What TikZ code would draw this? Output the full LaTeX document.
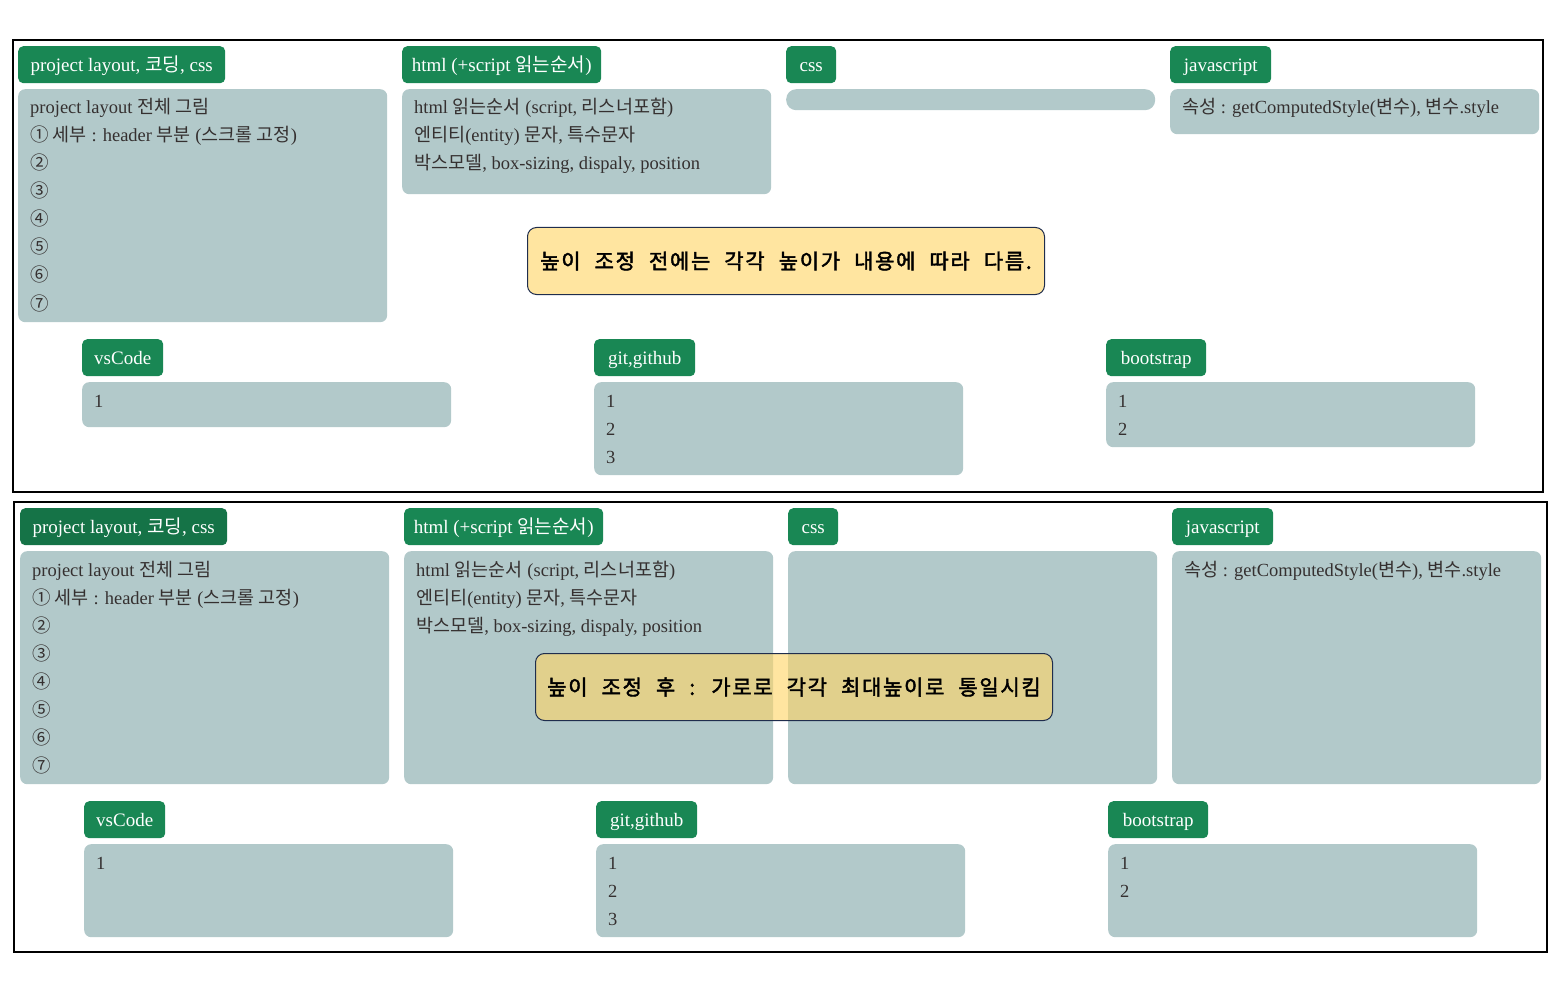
\documentclass[tikz,border=0pt]{standalone}
\usepackage{fontspec}
\setmainfont{Liberation Serif}
\newfontfamily\kr{Noto Sans CJK KR}
\newfontfamily\krb[FakeBold=2,WordSpace=2.2,LetterSpace=8]{Noto Sans CJK KR}
\definecolor{tabgreen}{HTML}{198754}
\definecolor{tabdark}{HTML}{157347}
\definecolor{boxgray}{HTML}{B2C9CA}
\definecolor{bodytext}{HTML}{353030}
\definecolor{notefill}{HTML}{FFD566}
\definecolor{noteline}{HTML}{1F2D4D}
\tikzset{
  tabbox/.style={fill=tabgreen, rounded corners=5pt, anchor=north west, minimum height=37pt, inner sep=0pt, text height=17.5pt, text depth=3pt, text=white, font=\fontsize{19}{22}\selectfont},
  graybox/.style={fill=boxgray, rounded corners=7pt, anchor=north west, minimum width=369pt, inner sep=0pt},
  bodytxt/.style={anchor=base west, inner sep=0pt, text=bodytext, font=\fontsize{18.5}{22}\selectfont},
  notebox/.style={draw=noteline, line width=1pt, fill=notefill, fill opacity=0.62, text opacity=1, rounded corners=9pt, anchor=north west, inner sep=0pt, minimum height=67pt, minimum width=517pt, font=\krb\fontsize{21}{24}\selectfont},
  frame/.style={draw=black, line width=1.2pt}
}
\newcommand\bl[4]{\node[bodytxt] (#1) at (#2,#3) {#4};}
\begin{document}
\begin{tikzpicture}[x=1pt,y=-1pt]
\useasboundingbox (0,0) rectangle (1556,995);
% ---------- top section ----------
\draw[frame] (13,40) rectangle (1543,492);
\node[tabbox, minimum width=207pt] (ta1) at (18,46) {project layout, {\kr 코딩}, css};
\node[tabbox, minimum width=199pt] (ta2) at (402,46) {html (+script {\kr 읽는순서})};
\node[tabbox, minimum width=50pt] (ta3) at (786,46) {css};
\node[tabbox, minimum width=101pt] (ta4) at (1170,46) {javascript};
\node[graybox, minimum height=233pt] (ga1) at (18,89) {};
\node[graybox, minimum height=105pt] (ga2) at (402,89) {};
\node[graybox, minimum height=21pt, rounded corners=10pt] (ga3) at (786,89) {};
\node[graybox, minimum height=45pt] (ga4) at (1170,89) {};
\bl{a1l1}{30}{114}{project layout {\kr 전체 그림}}
\bl{a1l2}{30}{142}{{\kr ① 세부} : header {\kr 부분} ({\kr 스크롤 고정})}
\bl{a1l3}{30}{170}{{\kr ②}}
\bl{a1l4}{30}{198}{{\kr ③}}
\bl{a1l5}{30}{226}{{\kr ④}}
\bl{a1l6}{30}{254}{{\kr ⑤}}
\bl{a1l7}{30}{282}{{\kr ⑥}}
\bl{a1l8}{30}{310}{{\kr ⑦}}
\bl{a2l1}{414}{114}{html {\kr 읽는순서} (script, {\kr 리스너포함})}
\bl{a2l2}{414}{142}{{\kr 엔티티}(entity) {\kr 문자}, {\kr 특수문자}}
\bl{a2l3}{414}{170}{{\kr 박스모델}, box-sizing, dispaly, position}
\bl{a4l1}{1182}{114}{{\kr 속성} : getComputedStyle({\kr 변수}), {\kr 변수}.style}
\node[tabbox, minimum width=81pt] (tb1) at (82,339) {vsCode};
\node[tabbox, minimum width=101pt] (tb2) at (594,339) {git,github};
\node[tabbox, minimum width=100pt] (tb3) at (1106,339) {bootstrap};
\node[graybox, minimum height=45pt] (gb1) at (82,382) {};
\node[graybox, minimum height=93pt] (gb2) at (594,382) {};
\node[graybox, minimum height=65pt] (gb3) at (1106,382) {};
\bl{b1l1}{94}{407}{1}
\bl{b2l1}{606}{407}{1}
\bl{b2l2}{606}{435}{2}
\bl{b2l3}{606}{463}{3}
\bl{b3l1}{1118}{407}{1}
\bl{b3l2}{1118}{435}{2}
\node[notebox] (note1) at (527,227) {높이 조정 전에는 각각 높이가 내용에 따라 다름.};
% ---------- bottom section ----------
\draw[frame] (14,502) rectangle (1547,952);
\node[tabbox, fill=tabdark, minimum width=207pt] (tc1) at (20,508) {project layout, {\kr 코딩}, css};
\node[tabbox, minimum width=199pt] (tc2) at (404,508) {html (+script {\kr 읽는순서})};
\node[tabbox, minimum width=50pt] (tc3) at (788,508) {css};
\node[tabbox, minimum width=101pt] (tc4) at (1172,508) {javascript};
\node[graybox, minimum height=233pt] (gc1) at (20,551) {};
\node[graybox, minimum height=233pt] (gc2) at (404,551) {};
\node[graybox, minimum height=233pt] (gc3) at (788,551) {};
\node[graybox, minimum height=233pt] (gc4) at (1172,551) {};
\bl{c1l1}{32}{576}{project layout {\kr 전체 그림}}
\bl{c1l2}{32}{604}{{\kr ① 세부} : header {\kr 부분} ({\kr 스크롤 고정})}
\bl{c1l3}{32}{632}{{\kr ②}}
\bl{c1l4}{32}{660}{{\kr ③}}
\bl{c1l5}{32}{688}{{\kr ④}}
\bl{c1l6}{32}{716}{{\kr ⑤}}
\bl{c1l7}{32}{744}{{\kr ⑥}}
\bl{c1l8}{32}{772}{{\kr ⑦}}
\bl{c2l1}{416}{576}{html {\kr 읽는순서} (script, {\kr 리스너포함})}
\bl{c2l2}{416}{604}{{\kr 엔티티}(entity) {\kr 문자}, {\kr 특수문자}}
\bl{c2l3}{416}{632}{{\kr 박스모델}, box-sizing, dispaly, position}
\bl{c4l1}{1184}{576}{{\kr 속성} : getComputedStyle({\kr 변수}), {\kr 변수}.style}
\node[tabbox, minimum width=81pt] (td1) at (84,801) {vsCode};
\node[tabbox, minimum width=101pt] (td2) at (596,801) {git,github};
\node[tabbox, minimum width=100pt] (td3) at (1108,801) {bootstrap};
\node[graybox, minimum height=93pt] (gd1) at (84,844) {};
\node[graybox, minimum height=93pt] (gd2) at (596,844) {};
\node[graybox, minimum height=93pt] (gd3) at (1108,844) {};
\bl{d1l1}{96}{869}{1}
\bl{d2l1}{608}{869}{1}
\bl{d2l2}{608}{897}{2}
\bl{d2l3}{608}{925}{3}
\bl{d3l1}{1120}{869}{1}
\bl{d3l2}{1120}{897}{2}
\node[notebox] (note2) at (535,653) {높이 조정 후 : 가로로 각각 최대높이로 통일시킴};
\end{tikzpicture}
\end{document}
